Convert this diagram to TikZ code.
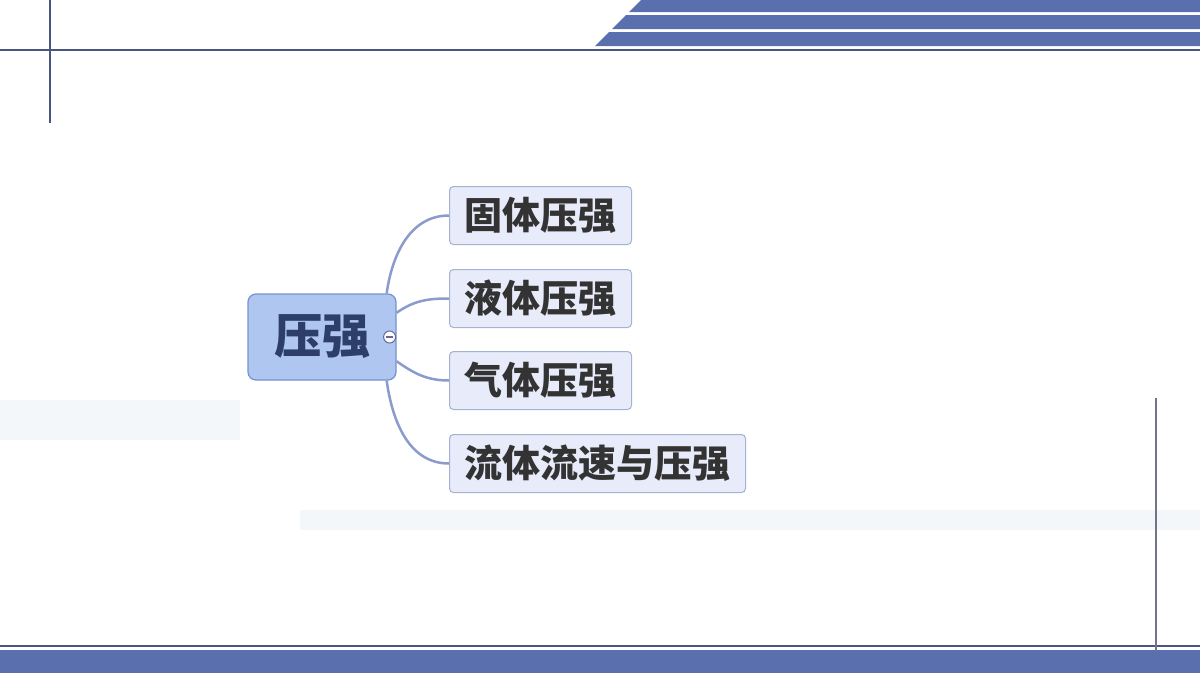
\documentclass[tikz,border=0pt]{standalone}
\usepackage{fontspec}
\newfontfamily\cjk{Noto Sans CJK SC}
\usepackage{xcolor}
\usepackage{tikz}
\usetikzlibrary{positioning}

\definecolor{stripeblue}{RGB}{90,112,174}
\definecolor{lineblue}{RGB}{72,86,128}
\definecolor{rootfill}{RGB}{174,198,240}
\definecolor{rootdraw}{RGB}{118,146,206}
\definecolor{leaffill}{RGB}{232,236,250}
\definecolor{leafdraw}{RGB}{166,178,210}
\definecolor{branch}{RGB}{140,155,205}
\definecolor{roottext}{RGB}{45,62,105}
\definecolor{haze}{RGB}{244,247,250}

\begin{document}
\begin{tikzpicture}[x=1pt, y=-1pt]
\tikzstyle{topic} = [rectangle, draw=rootdraw, fill=rootfill, rounded corners=8pt, line width=1.2pt, minimum width=148pt, minimum height=86pt, font=\cjk\bfseries\fontsize{48}{52}\selectfont, text=roottext]
\tikzstyle{leaf} = [rectangle, draw=leafdraw, fill=leaffill, rounded corners=4pt, line width=1pt, minimum height=58pt, inner xsep=15pt, font=\cjk\bfseries\fontsize{38}{42}\selectfont, text=black!80]
\tikzstyle{branchline} = [draw=branch, line width=2.5pt]

\useasboundingbox (0,0) rectangle (1200,675);
\fill[white] (0,0) rectangle (1200,675);

% faint background streaks
\fill[haze] (0,400) rectangle (240,440);
\fill[haze] (300,510) rectangle (1200,530);

% frame: stripes and lines
\fill[stripeblue] (641,0) -- (1200,0) -- (1200,12) -- (629,12) -- cycle;
\fill[stripeblue] (626,15) -- (1200,15) -- (1200,29) -- (612,29) -- cycle;
\fill[stripeblue] (609,32) -- (1200,32) -- (1200,46) -- (595,46) -- cycle;
\draw[lineblue, line width=2.5pt] (0,50) -- (1200,50);
\draw[lineblue, line width=2.5pt] (50,0) -- (50,123);
\draw[lineblue, line width=2pt] (0,646) -- (1200,646);
\fill[stripeblue] (0,650) rectangle (1200,673);
\draw[gray!90!blue, line width=2pt] (1156,398) -- (1156,652);

% mind map
\node (main) [topic] at (322,337) {压强};
\node (gu) [leaf, anchor=north west] at (449,186) {固体压强};
\node (ye) [leaf, below right=24pt and 0pt of gu.south west] {液体压强};
\node (qi) [leaf, below right=23pt and 0pt of ye.south west] {气体压强};
\node (liu) [leaf, below right=24pt and 0pt of qi.south west] {流体流速与压强};

\draw [branchline] (main.34) to[out=82, in=180] (gu.west);
\draw [branchline] (main.18) to[out=35, in=180] (ye.west);
\draw [branchline] (main.-18) to[out=-35, in=180] (qi.west);
\draw [branchline] (main.-34) to[out=-82, in=180] (liu.west);

\node (fold) [circle, draw=gray!80!blue, fill=white, line width=1pt, minimum size=12pt, inner sep=0pt] at ([xshift=-7pt]main.east) {};
\draw [gray!80!blue, line width=1.5pt] ([xshift=-3.5pt]fold.center) -- ([xshift=3.5pt]fold.center);
\end{tikzpicture}
\end{document}
